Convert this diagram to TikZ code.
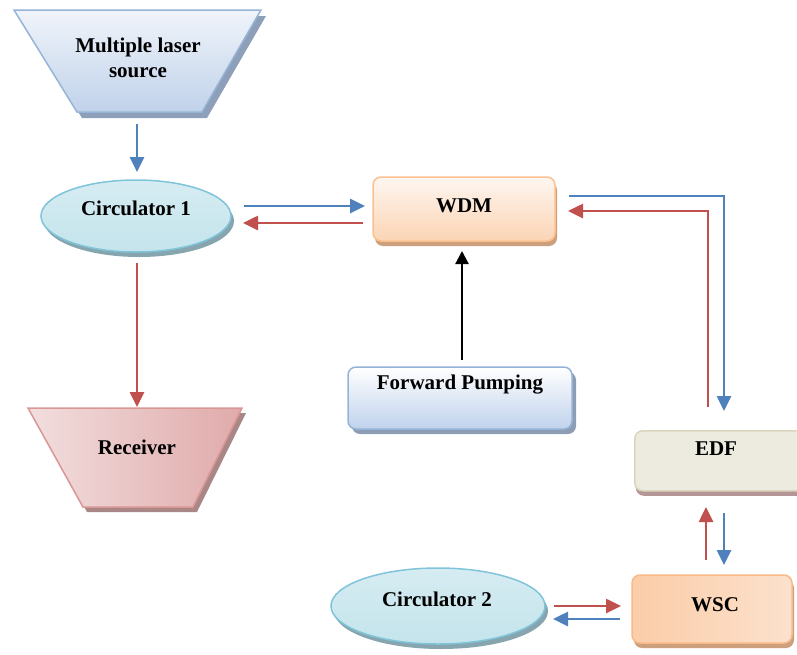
\documentclass[tikz,border=0pt]{standalone}
\usepackage{fontspec}
\setmainfont{Liberation Serif}
\usetikzlibrary{shapes.geometric,arrows.meta,shadows}
\definecolor{arblue}{HTML}{4F81BD}
\definecolor{arred}{HTML}{C0504D}
\definecolor{lasShadow}{RGB}{142,160,185}
\definecolor{lasDraw}{RGB}{150,180,215}
\definecolor{lasTop}{RGB}{240,244,250}
\definecolor{lasBot}{RGB}{192,210,234}
\definecolor{circDraw}{RGB}{128,196,218}
\definecolor{circTop}{RGB}{214,236,242}
\definecolor{circBot}{RGB}{196,228,236}
\definecolor{circShadow}{RGB}{135,165,175}
\definecolor{wdmDraw}{RGB}{250,192,143}
\definecolor{wdmTop}{RGB}{254,246,240}
\definecolor{wdmBot}{RGB}{251,212,180}
\definecolor{orShadow}{RGB}{205,160,125}
\definecolor{recShadow}{RGB}{170,135,135}
\definecolor{recDraw}{RGB}{217,150,148}
\definecolor{recL}{RGB}{242,222,222}
\definecolor{recR}{RGB}{224,170,170}
\definecolor{fpDraw}{RGB}{149,179,215}
\definecolor{fpBot}{RGB}{192,210,236}
\definecolor{fpShadow}{RGB}{140,157,180}
\definecolor{edfDraw}{RGB}{218,213,190}
\definecolor{edfFill}{RGB}{237,235,224}
\definecolor{edfShadow}{RGB}{180,150,150}
\definecolor{wscDraw}{RGB}{248,185,135}
\definecolor{wscL}{RGB}{251,205,168}
\definecolor{wscR}{RGB}{252,225,205}
\begin{document}
\begin{tikzpicture}[x=1pt,y=-1pt,
  lbl/.style={font=\fontsize{21}{25}\selectfont\bfseries, align=center, inner sep=0pt},
  ar/.style={line width=2.6pt, -{Triangle[length=15pt,width=14pt]}},
  bl/.style={ar, draw=arblue},
  rd/.style={ar, draw=arred},
  circ/.style={ellipse, draw=circDraw, line width=1.5pt, minimum width=190pt, minimum height=72pt,
     top color=circTop, bottom color=circBot,
     drop shadow={shadow xshift=3pt, shadow yshift=-5pt, opacity=1, fill=circShadow}},
  rbox/.style={rectangle, rounded corners=8pt, line width=1.5pt},
]
\useasboundingbox (0,0) rectangle (797,654);

% Multiple laser source (trapezoid)
\fill[lasShadow] (19,16) -- (266,16) -- (207,118) -- (82,118) -- cycle;
\path[draw=lasDraw, line width=1.5pt, top color=lasTop, bottom color=lasBot]
  (14,10) -- (261,10) -- (202,112) -- (77,112) -- cycle;
\node[lbl] (las) at (138,58) {Multiple laser\\source};
\coordinate (lasb) at (137,124);

% Circulator 1
\node[circ] (c1) at (136,216) {};
\node[lbl] (c1t) at (136,208) {Circulator 1};

% WDM
\node[rbox, draw=wdmDraw, top color=wdmTop, bottom color=wdmBot,
  minimum width=182pt, minimum height=64pt,
  drop shadow={shadow xshift=2pt, shadow yshift=-5pt, opacity=1, fill=orShadow}] (wdm) at (464,209) {};
\node[lbl] (wdmt) at (464,206) {WDM};

% Receiver
\fill[recShadow] (32,413) -- (246,413) -- (197,512) -- (87,512) -- cycle;
\path[draw=recDraw, line width=1.5pt, left color=recL, right color=recR]
  (28,408) -- (242,408) -- (193,507) -- (83,507) -- cycle;
\node[lbl] (rec) at (137,447) {Receiver};
\coordinate (rect) at (137,407);

% Forward Pumping
\node[rbox, draw=fpDraw, top color=white, bottom color=fpBot,
  minimum width=224pt, minimum height=62pt,
  drop shadow={shadow xshift=4pt, shadow yshift=-5pt, opacity=1, fill=fpShadow}] (fp) at (460,398) {};
\node[lbl] (fpt) at (460,385) {Forward Pumping};

% EDF
\node[rbox, draw=edfDraw, fill=edfFill,
  minimum width=170pt, minimum height=60pt, anchor=north west,
  drop shadow={shadow xshift=1pt, shadow yshift=-5pt, opacity=1, fill=edfShadow}] (edf) at (634,430) {};
\node[lbl] (edft) at (716,449) {EDF};

% WSC
\node[rbox, draw=wscDraw, left color=wscL, right color=wscR,
  minimum width=160pt, minimum height=68pt,
  drop shadow={shadow xshift=2pt, shadow yshift=-5pt, opacity=1, fill=orShadow}] (wsc) at (712,609) {};
\node[lbl] (wsct) at (715,605) {WSC};

% Circulator 2
\node[circ, minimum width=214pt, minimum height=76pt] (c2) at (438,606) {};
\node[lbl] (c2t) at (437,599) {Circulator 2};

% Connectors
\coordinate (c1o) at (244,206);
\coordinate (c1i) at (243,223);
\coordinate (wdmi) at (365,206);
\coordinate (wdmo) at (363,223);
\draw[bl] (c1o) -- (wdmi);
\draw[rd] (wdmo) -- (c1i);
\coordinate (c1b) at (137,263);
\draw[rd] (c1b) -- (rect);
\coordinate (fpn) at (462,360);
\coordinate (wdms) at (462,251);
\draw[-{Triangle[length=13pt,width=13pt]}, line width=2.2pt, black] (fpn) -- (wdms);
\coordinate (c1n) at (137,172);
\draw[bl] (lasb) -- (c1n);
\coordinate (wdme1) at (569,196);
\coordinate (edfn1) at (724,411);
\draw[bl] (wdme1) -- (724,196) -- (edfn1);
\coordinate (wdme2) at (568,211);
\coordinate (edfn2) at (708,407);
\draw[rd] (edfn2) -- (708,211) -- (wdme2);
\coordinate (wscn1) at (706,560);
\coordinate (edfs1) at (706,507);
\draw[rd] (wscn1) -- (edfs1);
\coordinate (edfs2) at (724,513);
\coordinate (wscn2) at (724,565);
\draw[bl] (edfs2) -- (wscn2);
\coordinate (c2e1) at (554,606);
\coordinate (wscw1) at (621,606);
\draw[rd] (c2e1) -- (wscw1);
\coordinate (wscw2) at (620,619);
\coordinate (c2e2) at (553,619);
\draw[bl] (wscw2) -- (c2e2);
\end{tikzpicture}
\end{document}
